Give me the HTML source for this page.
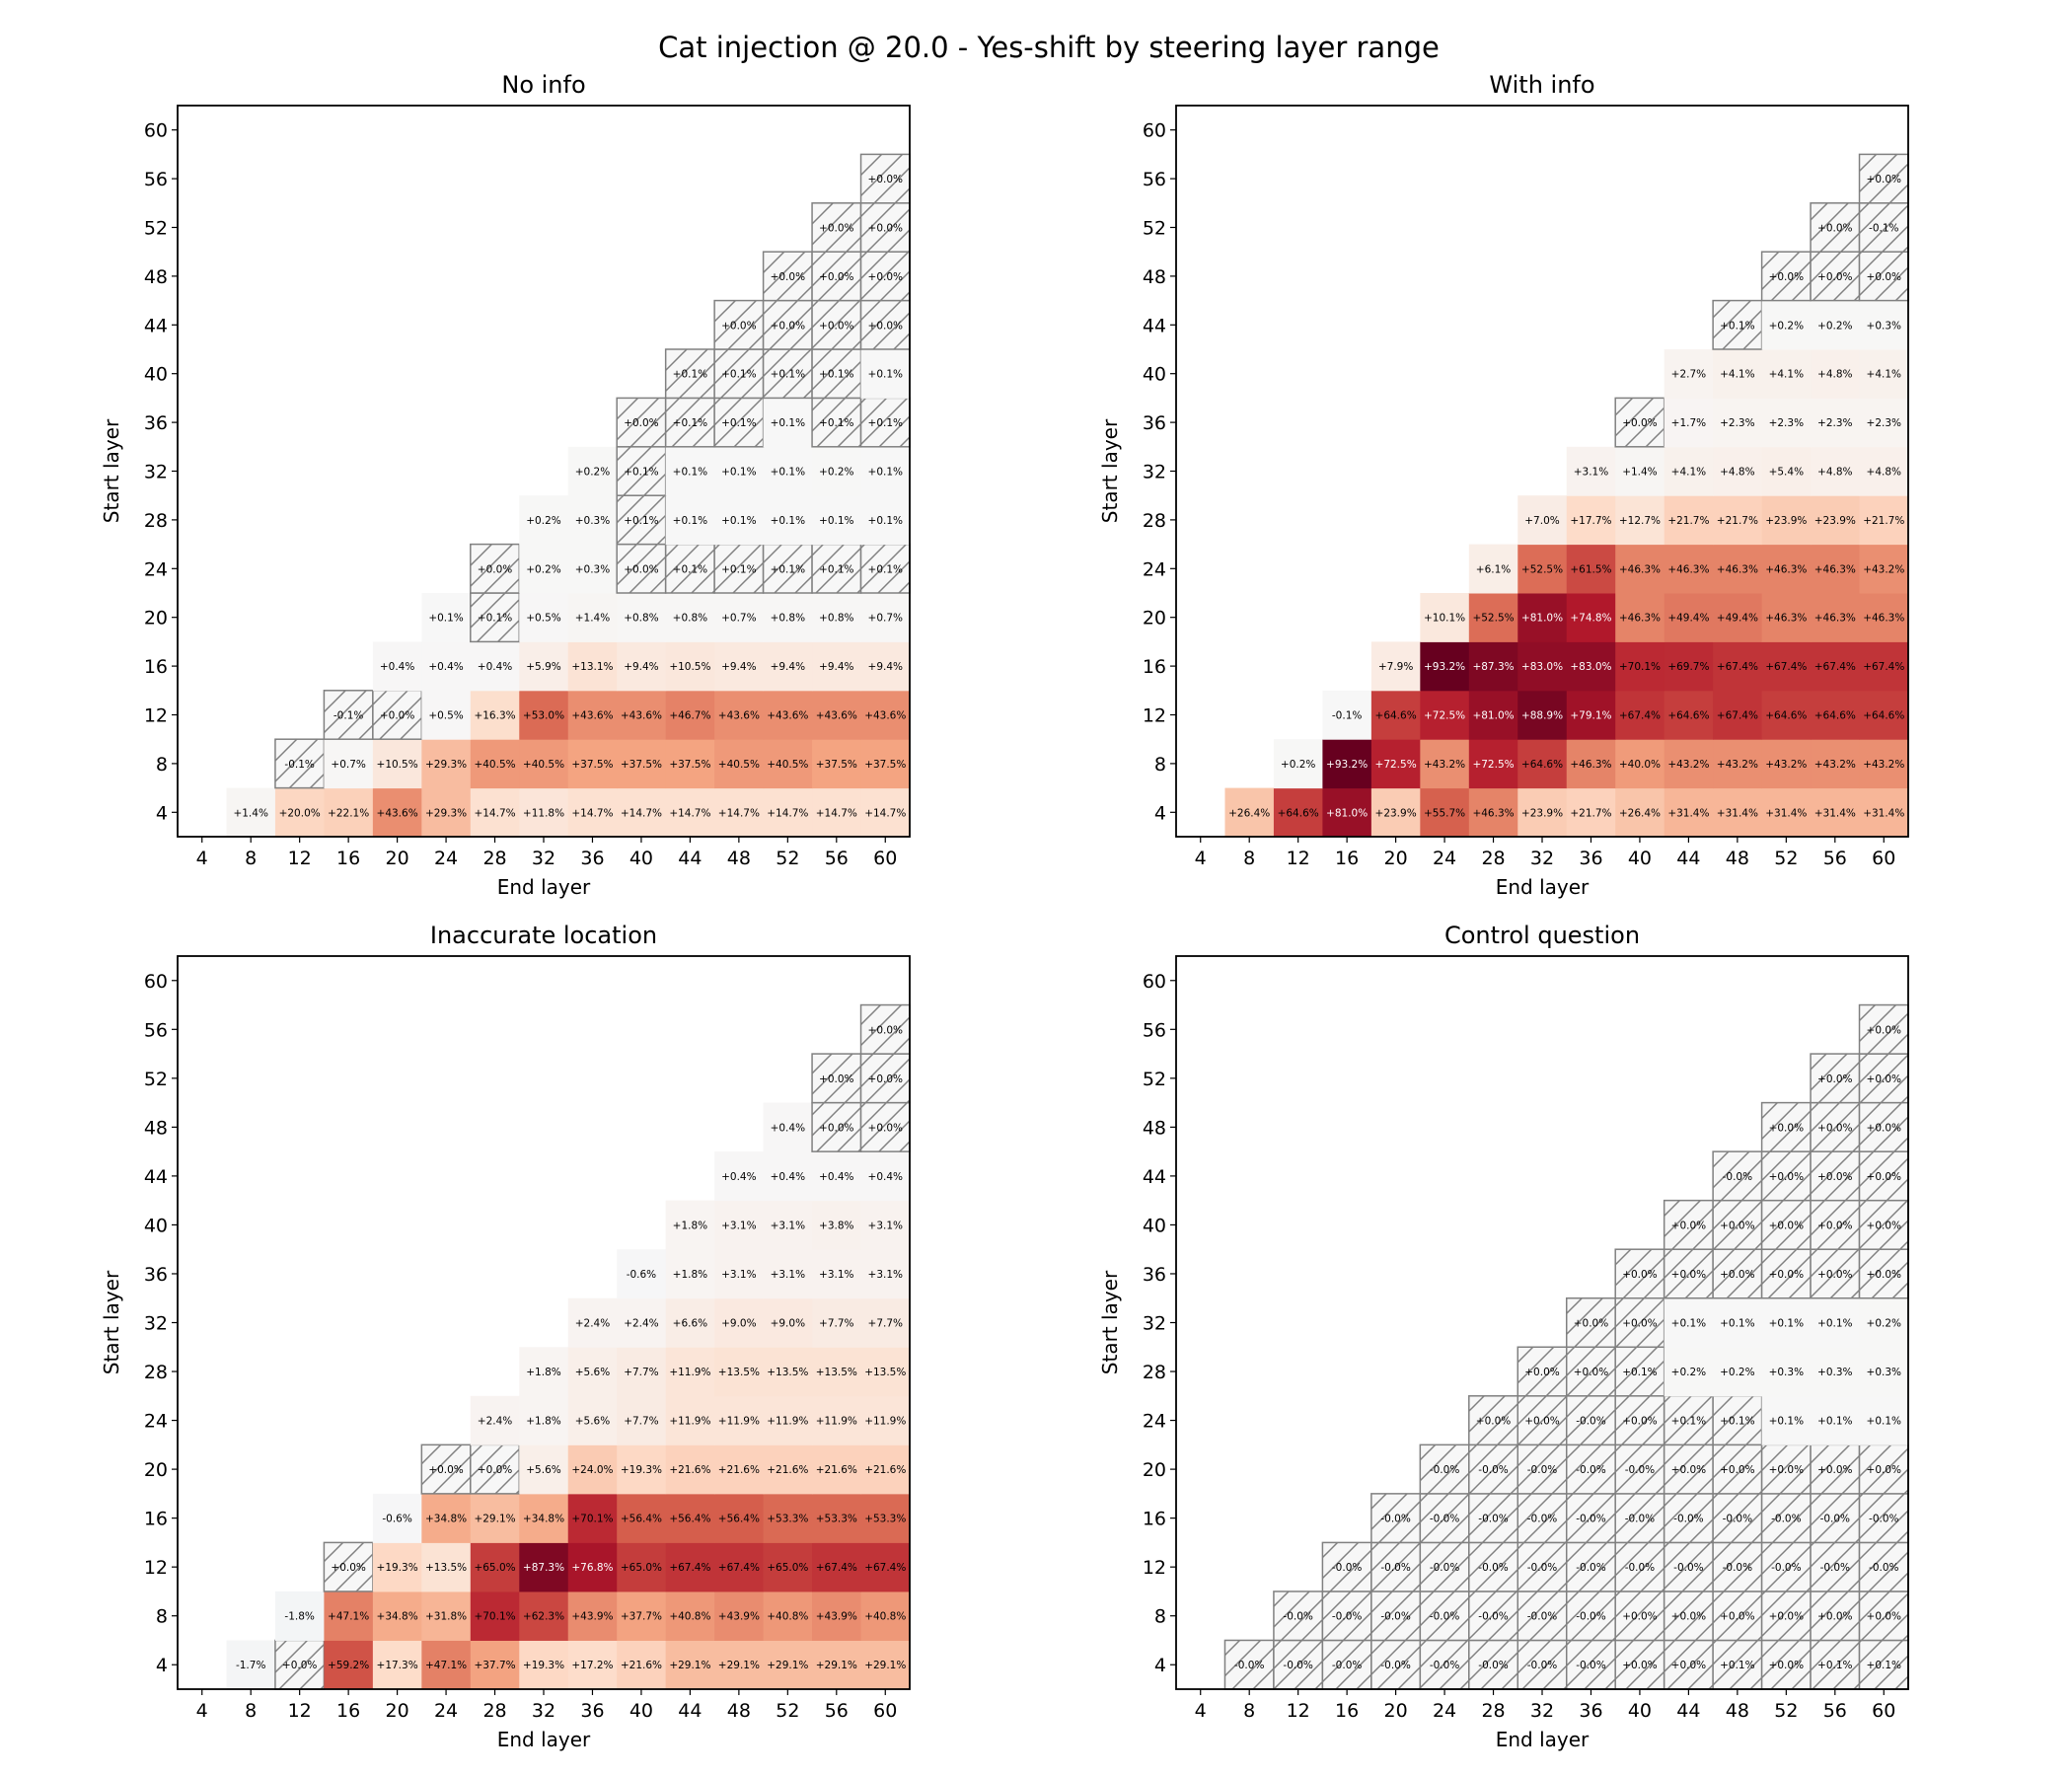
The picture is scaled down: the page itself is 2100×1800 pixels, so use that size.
<!DOCTYPE html>
<html><head><meta charset="utf-8">
<style>
html,body{margin:0;padding:0;background:#fff;}
svg{display:block;font-family:"DejaVu Sans","Liberation Sans",sans-serif;}
</style></head>
<body>
<svg id="fig" width="2100" height="1800" viewBox="0 0 2100 1800" xmlns="http://www.w3.org/2000/svg">
<defs>
<pattern id="hatch" patternUnits="userSpaceOnUse" width="21" height="21">
<line x1="-2" y1="23" x2="23" y2="-2" stroke="#808080" stroke-width="1.5"/>
<line x1="-12" y1="12" x2="12" y2="-12" stroke="#808080" stroke-width="1.5"/>
<line x1="9" y1="33" x2="33" y2="9" stroke="#808080" stroke-width="1.5"/>
</pattern>
</defs>
<text x="1063" y="58" font-size="29" text-anchor="middle">Cat injection @ 20.0 - Yes-shift by steering layer range</text>
</svg>
<script>
const layers = [4,8,12,16,20,24,28,32,36,40,44,48,52,56,60];
const panelTitles = ["No info","With info","Inaccurate location","Control question"];
// values per start-layer row (start 4..56), ends from start+4..60
const noInfo = [
 [1.4,20.0,22.1,43.6,29.3,14.7,11.8,14.7,14.7,14.7,14.7,14.7,14.7,14.7],
 [-0.1,0.7,10.5,29.3,40.5,40.5,37.5,37.5,37.5,40.5,40.5,37.5,37.5],
 [-0.1,0.0,0.5,16.3,53.0,43.6,43.6,46.7,43.6,43.6,43.6,43.6],
 [0.4,0.4,0.4,5.9,13.1,9.4,10.5,9.4,9.4,9.4,9.4],
 [0.1,0.1,0.5,1.4,0.8,0.8,0.7,0.8,0.8,0.7],
 [0.0,0.2,0.3,0.0,0.1,0.1,0.1,0.1,0.1],
 [0.2,0.3,0.1,0.1,0.1,0.1,0.1,0.1],
 [0.2,0.1,0.1,0.1,0.1,0.2,0.1],
 [0.0,0.1,0.1,0.1,0.1,0.1],
 [0.1,0.1,0.1,0.1,0.1],
 [0.0,0.0,0.0,0.0],
 [0.0,0.0,0.0],
 [0.0,0.0],
 [0.0]
];
const noInfoHatch = ["00000000000000","1000000000000","110000000000","00000000000","0100000000","100111111","00100000","0100000","111011","11110","1111","111","11","1"];
const withInfo = [
 [26.4,64.6,81.0,23.9,55.7,46.3,23.9,21.7,26.4,31.4,31.4,31.4,31.4,31.4],
 [0.2,93.2,72.5,43.2,72.5,64.6,46.3,40.0,43.2,43.2,43.2,43.2,43.2],
 [-0.1,64.6,72.5,81.0,88.9,79.1,67.4,64.6,67.4,64.6,64.6,64.6],
 [7.9,93.2,87.3,83.0,83.0,70.1,69.7,67.4,67.4,67.4,67.4],
 [10.1,52.5,81.0,74.8,46.3,49.4,49.4,46.3,46.3,46.3],
 [6.1,52.5,61.5,46.3,46.3,46.3,46.3,46.3,43.2],
 [7.0,17.7,12.7,21.7,21.7,23.9,23.9,21.7],
 [3.1,1.4,4.1,4.8,5.4,4.8,4.8],
 [0.0,1.7,2.3,2.3,2.3,2.3],
 [2.7,4.1,4.1,4.8,4.1],
 [0.1,0.2,0.2,0.3],
 [0.0,0.0,0.0],
 [0.0,-0.1],
 [0.0]
];
const withInfoHatch = ["00000000000000","0000000000000","000000000000","00000000000","0000000000","000000000","00000000","0000000","100000","00000","1000","111","11","1"];
const inaccurate = [
 [-1.7,0.0,59.2,17.3,47.1,37.7,19.3,17.2,21.6,29.1,29.1,29.1,29.1,29.1],
 [-1.8,47.1,34.8,31.8,70.1,62.3,43.9,37.7,40.8,43.9,40.8,43.9,40.8],
 [0.0,19.3,13.5,65.0,87.3,76.8,65.0,67.4,67.4,65.0,67.4,67.4],
 [-0.6,34.8,29.1,34.8,70.1,56.4,56.4,56.4,53.3,53.3,53.3],
 [0.0,0.0,5.6,24.0,19.3,21.6,21.6,21.6,21.6,21.6],
 [2.4,1.8,5.6,7.7,11.9,11.9,11.9,11.9,11.9],
 [1.8,5.6,7.7,11.9,13.5,13.5,13.5,13.5],
 [2.4,2.4,6.6,9.0,9.0,7.7,7.7],
 [-0.6,1.8,3.1,3.1,3.1,3.1],
 [1.8,3.1,3.1,3.8,3.1],
 [0.4,0.4,0.4,0.4],
 [0.4,0.0,0.0],
 [0.0,0.0],
 [0.0]
];
const inaccurateHatch = ["01000000000000","0000000000000","100000000000","00000000000","1100000000","000000000","00000000","0000000","000000","00000","0000","011","11","1"];
const control = [
 [-0.01,-0.01,-0.01,-0.01,-0.01,-0.01,-0.01,-0.01,0.0,0.0,0.1,0.0,0.1,0.1],
 [-0.01,-0.01,-0.01,-0.01,-0.01,-0.01,-0.01,0.0,0.0,0.0,0.0,0.0,0.0],
 [-0.01,-0.01,-0.01,-0.01,-0.01,-0.01,-0.01,-0.01,-0.01,-0.01,-0.01,-0.01],
 [-0.01,-0.01,-0.01,-0.01,-0.01,-0.01,-0.01,-0.01,-0.01,-0.01,-0.01],
 [-0.01,-0.01,-0.01,-0.01,-0.01,0.0,0.0,0.0,0.0,0.0],
 [0.0,0.0,-0.01,0.0,0.1,0.1,0.1,0.1,0.1],
 [0.0,0.0,0.1,0.2,0.2,0.3,0.3,0.3],
 [0.0,0.0,0.1,0.1,0.1,0.1,0.2],
 [0.0,0.0,0.0,0.0,0.0,0.0],
 [0.0,0.0,0.0,0.0,0.0],
 [-0.01,0.0,0.0,0.0],
 [0.0,0.0,0.0],
 [0.0,0.0],
 [0.0]
];
const controlHatch = ["11111111111111","1111111111111","111111111111","11111111111","1111111111","111111000","11100000","1100000","111111","11111","1111","111","11","1"];

const panelValues = [noInfo, withInfo, inaccurate, control];
const panelHatches = [noInfoHatch, withInfoHatch, inaccurateHatch, controlHatch];
const VMAX = 93.2;

const NS = "http://www.w3.org/2000/svg";
const fig = document.getElementById("fig");
const boxes = [
  {l:180,t:107,r:922,b:848},
  {l:1192,t:107,r:1934,b:848},
  {l:180,t:969,r:922,b:1712},
  {l:1192,t:969,r:1934,b:1712}
];
const stops = ["#053061","#2166ac","#4393c3","#92c5de","#d1e5f0","#f7f7f7","#fddbc7","#f4a582","#d6604d","#b2182b","#67001f"];
function hex(h){return [parseInt(h.slice(1,3),16),parseInt(h.slice(3,5),16),parseInt(h.slice(5,7),16)];}
function cmap(v){
  let p=(v/VMAX+1)/2; p=Math.max(0,Math.min(1,p));
  const f=p*10, i=Math.min(9,Math.floor(f)), u=f-i;
  const a=hex(stops[i]), b=hex(stops[i+1]);
  return "rgb("+a.map((c,k)=>Math.round(c+(b[k]-c)*u)).join(",")+")";
}
function fmt(v){return (v<0||Object.is(v,-0)?"-":"+")+Math.abs(v).toFixed(1)+"%";}
function mk(tag,attrs,parent){const e=document.createElementNS(NS,tag);for(const k in attrs)e.setAttribute(k,attrs[k]);(parent||fig).appendChild(e);return e;}

panelValues.forEach((vals,pi)=>{
  const B=boxes[pi];
  const cw=(B.r-B.l)/layers.length, ch=(B.b-B.t)/layers.length;
  const xs=(layer)=>B.l+(layers.indexOf(layer))*cw;
  const ys=(layer)=>B.b-(layers.indexOf(layer)+1)*ch;
  const g=mk("g",{});
  
  
  const title=mk("text",{x:(B.l+B.r)/2,y:B.t-13,"font-size":24,"text-anchor":"middle"},g);
  title.textContent=panelTitles[pi];
  
  
  vals.forEach((row,ri)=>{
    const start=layers[ri];
    row.forEach((v,ci)=>{
      const end=start+4*(ci+1);
      const x=xs(end), y=ys(start);
      const rect=mk("rect",{x:x,y:y,width:cw+0.5,height:ch+0.5,fill:cmap(v)},g);
      
      
      const h=panelHatches[pi][ri][ci]==="1";
      if(h){
        const hr=mk("rect",{x:x,y:y,width:cw,height:ch,fill:"url(#hatch)",stroke:"#808080","stroke-width":1.5},g);
        
        
      }
      const t=mk("text",{x:x+cw/2,y:y+ch/2+4,"font-size":10.5,"text-anchor":"middle",fill:(v>72?"#fff":"#000")},g);
      t.textContent=fmt(v);
      
      
    });
  });
  const frame=mk("rect",{x:B.l,y:B.t,width:B.r-B.l,height:B.b-B.t,fill:"none",stroke:"#000","stroke-width":1.8},g);
  
  
  layers.forEach((L)=>{
    const cx=xs(L)+cw/2;
    mk("line",{x1:cx,y1:B.b,x2:cx,y2:B.b+6,stroke:"#000","stroke-width":1.2},g);
    const xt=mk("text",{x:cx,y:B.b+28,"font-size":19,"text-anchor":"middle"},g);
    xt.textContent=L;
    
    
    const cy=ys(L)+ch/2;
    mk("line",{x1:B.l-6,y1:cy,x2:B.l,y2:cy,stroke:"#000","stroke-width":1.2},g);
    const yt=mk("text",{x:B.l-10,y:cy+7,"font-size":19,"text-anchor":"end"},g);
    yt.textContent=L;
    
    
  });
  const xl=mk("text",{x:(B.l+B.r)/2,y:B.b+58,"font-size":20,"text-anchor":"middle"},g);
  xl.textContent="End layer";
  
  
  const yx=B.l-60, yy=(B.t+B.b)/2;
  const yl=mk("text",{x:yx,y:yy,"font-size":20,"text-anchor":"middle",transform:"rotate(-90 "+yx+" "+yy+")"},g);
  yl.textContent="Start layer";
  
  
});
</script>
</body></html>
